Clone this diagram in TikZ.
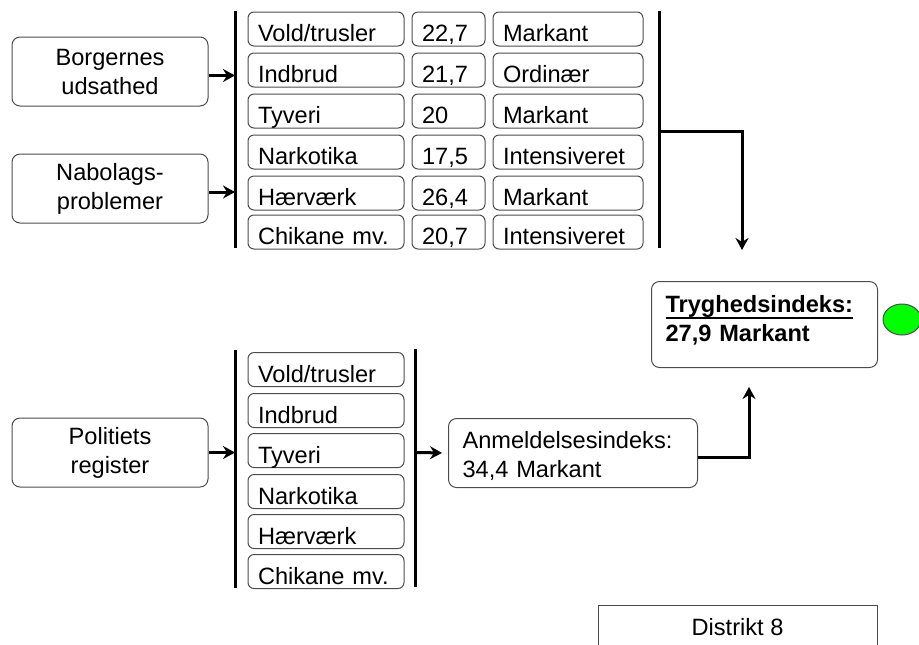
\documentclass[tikz,border=0pt]{standalone}
\usepackage{fontspec}
\setmainfont{Liberation Sans}
\usetikzlibrary{arrows.meta,shapes.geometric}
\newcommand{\ulined}[1]{\setbox0\hbox{#1}\rlap{\rule[-3pt]{\wd0}{1pt}}\box0}

\begin{document}
\begin{tikzpicture}[
    x=0.5pt,y=-0.5pt,
    font=\fontsize{11.8}{14.5}\selectfont,
    >={Stealth[length=6pt,width=6.5pt,inset=2pt]},
    src/.style={rectangle,rounded corners=4pt,draw=black!70,line width=0.5pt,minimum width=98pt,minimum height=34.5pt,align=center},
    cell/.style={rectangle,rounded corners=3pt,draw=black!70,line width=0.5pt,inner xsep=5pt,inner ysep=0pt,text height=14.75pt,text depth=2.25pt,align=left},
    crime/.style={cell,text width=68pt},
    score/.style={cell,text width=26.5pt},
    grade/.style={cell,text width=65pt},
    result/.style={rectangle,rounded corners=4pt,draw=black!70,line width=0.5pt,inner xsep=7pt,inner ysep=0pt,align=left,anchor=north west},
    bar/.style={line width=1.5pt},
    flow/.style={line width=1.5pt,->},
    ]
    \useasboundingbox (0,0) rectangle (919,644);

    \node[src] (bu) at (110,71.5) {Borgernes\\udsathed};
    \node[src] (nb) at (110,188.5) {Nabolags-\\problemer};
    \node[src] (pr) at (110,452.5) {Politiets\\register};

    \node[crime] (a1) at (326,29) {Vold/trusler};
    \node[crime] (a2) at (326,70) {Indbrud};
    \node[crime] (a3) at (326,111) {Tyveri};
    \node[crime] (a4) at (326,152) {Narkotika};
    \node[crime] (a5) at (326,193) {Hærværk};
    \node[crime] (a6) at (326,232) {Chikane mv.};
    \node[score] (b1) at (448.5,29) {22,7};
    \node[score] (b2) at (448.5,70) {21,7};
    \node[score] (b3) at (448.5,111) {20};
    \node[score] (b4) at (448.5,152) {17,5};
    \node[score] (b5) at (448.5,193) {26,4};
    \node[score] (b6) at (448.5,232) {20,7};
    \node[grade] (c1) at (568,29) {Markant};
    \node[grade] (c2) at (568,70) {Ordinær};
    \node[grade] (c3) at (568,111) {Markant};
    \node[grade] (c4) at (568,152) {Intensiveret};
    \node[grade] (c5) at (568,193) {Markant};
    \node[grade] (c6) at (568,232) {Intensiveret};

    \node[crime] (d1) at (326,369.5) {Vold/trusler};
    \node[crime] (d2) at (326,410.5) {Indbrud};
    \node[crime] (d3) at (326,450.5) {Tyveri};
    \node[crime] (d4) at (326,491.5) {Narkotika};
    \node[crime] (d5) at (326,531.5) {Hærværk};
    \node[crime] (d6) at (326,571.5) {Chikane mv.};

    \node[result,text width=99pt,text height=15.5pt,text depth=27.5pt] (tryg) at (651,281)
        {\textbf{\ulined{Tryghedsindeks:}}\\\textbf{27,9 Markant}};
    \node[result,text width=110.5pt,text height=15pt,text depth=19.5pt] (anm) at (448,418)
        {Anmeldelsesindeks:\\34,4 Markant};
    \node[ellipse,draw=black!70,line width=0.5pt,fill=green,minimum width=19pt,minimum height=15.5pt,inner sep=0pt] (lamp) at (902,319.5) {};
    \node[rectangle,draw=black!70,line width=0.5pt,minimum width=139.5pt,inner ysep=0pt,text height=15pt,text depth=20pt,anchor=north] (dist) at (737.5,605) {Distrikt 8};

    \draw[bar] (235,11) coordinate (barA) -- (235,248);
    \draw[bar] (659,11) -- (659,248);
    \draw[bar] (235,350) coordinate (barC) -- (235,588);
    \draw[bar] (415,349) coordinate (barD) -- (415,587);
    \coordinate (outA) at (659,131);
    \coordinate (inA) at (742,250);
    \coordinate (inB) at (749,387);

    \draw[flow] ([yshift=-2pt]bu.east) -- ([yshift=-2pt]bu.east -| barA);
    \draw[flow] ([yshift=-1.75pt]nb.east) -- ([yshift=-1.75pt]nb.east -| barA);
    \draw[flow] (pr.east) -- (pr.east -| barC);
    \draw[flow,shorten >=3pt] (pr.east -| barD) -- (anm.west);
    \draw[flow] (outA) -| (inA);
    \draw[flow] ([yshift=-2pt]anm.east) -| (inB);
\end{tikzpicture}
\end{document}
